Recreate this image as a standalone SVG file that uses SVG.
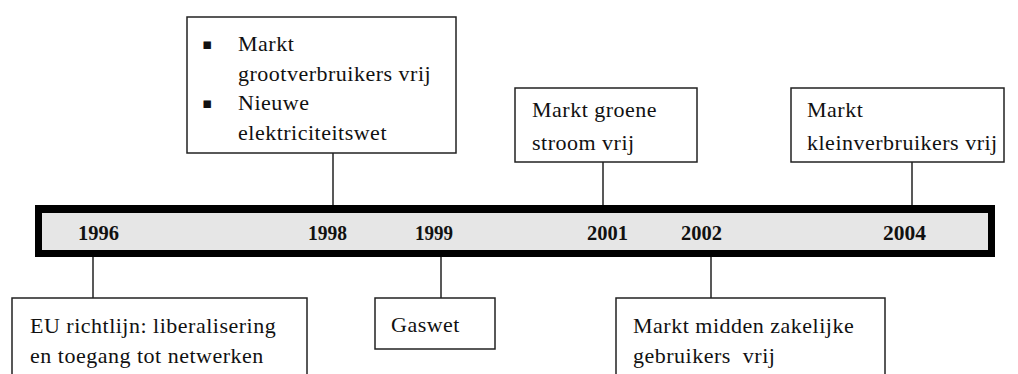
<svg xmlns="http://www.w3.org/2000/svg" width="1018" height="374" viewBox="0 0 1018 374">
<style>
.box{fill:#fff;stroke:#222;stroke-width:1.5}
.t{font-family:"Liberation Serif","Times New Roman",serif;font-size:22px;letter-spacing:0.5px;fill:#111;white-space:pre}
.yr{font-family:"Liberation Serif","Times New Roman",serif;font-size:22px;font-weight:bold;fill:#111}
.b{font-family:"DejaVu Sans",sans-serif;font-size:15px;fill:#111}
.c{stroke:#222;stroke-width:1.5;fill:none}
</style>
<rect width="1018" height="374" fill="#fff"/>
<g id="connectors">
<line class="c" x1="333" y1="153" x2="333" y2="205"/>
<line class="c" x1="603" y1="162" x2="603" y2="205"/>
<line class="c" x1="912" y1="162" x2="912" y2="205"/>
<line class="c" x1="93" y1="257" x2="93" y2="298"/>
<line class="c" x1="441" y1="257" x2="441" y2="298"/>
<line class="c" x1="711" y1="257" x2="711" y2="298"/>
</g>
<g id="timeline">
<rect x="35" y="205" width="960" height="52" fill="#000"/>
<rect x="42" y="213" width="946" height="37" fill="#e6e6e6"/>
<text class="yr" x="78" y="240" textLength="41" lengthAdjust="spacingAndGlyphs">1996</text>
<text class="yr" x="308" y="240" textLength="39" lengthAdjust="spacingAndGlyphs">1998</text>
<text class="yr" x="415" y="240" textLength="38" lengthAdjust="spacingAndGlyphs">1999</text>
<text class="yr" x="587" y="240" textLength="41" lengthAdjust="spacingAndGlyphs">2001</text>
<text class="yr" x="681" y="240" textLength="41" lengthAdjust="spacingAndGlyphs">2002</text>
<text class="yr" x="883" y="240" textLength="43" lengthAdjust="spacingAndGlyphs">2004</text>
</g>
<g id="n1998">
<rect class="box" x="187" y="17" width="269" height="136"/>
<text class="b" x="202" y="49">▪</text>
<text class="t" x="238" y="51">Markt</text>
<text class="t" x="238" y="81">grootverbruikers vrij</text>
<text class="b" x="202" y="108">▪</text>
<text class="t" x="238" y="110">Nieuwe</text>
<text class="t" x="238" y="140">elektriciteitswet</text>
</g>
<g id="n2001">
<rect class="box" x="515" y="88" width="182" height="74"/>
<text class="t" x="532" y="117">Markt groene</text>
<text class="t" x="532" y="150">stroom vrij</text>
</g>
<g id="n2004">
<rect class="box" x="791" y="88" width="213" height="74"/>
<text class="t" x="807" y="117">Markt</text>
<text class="t" x="807" y="150">kleinverbruikers vrij</text>
</g>
<g id="n1996">
<rect class="box" x="12" y="298" width="295" height="90"/>
<text class="t" x="30" y="333">EU richtlijn: liberalisering</text>
<text class="t" x="30" y="363">en toegang tot netwerken</text>
</g>
<g id="n1999">
<rect class="box" x="375" y="298" width="120" height="51"/>
<text class="t" x="391" y="332">Gaswet</text>
</g>
<g id="n2002">
<rect class="box" x="616" y="298" width="269" height="90"/>
<text class="t" x="633" y="333">Markt midden zakelijke</text>
<text class="t" x="633" y="363">gebruikers  vrij</text>
</g>
</svg>
